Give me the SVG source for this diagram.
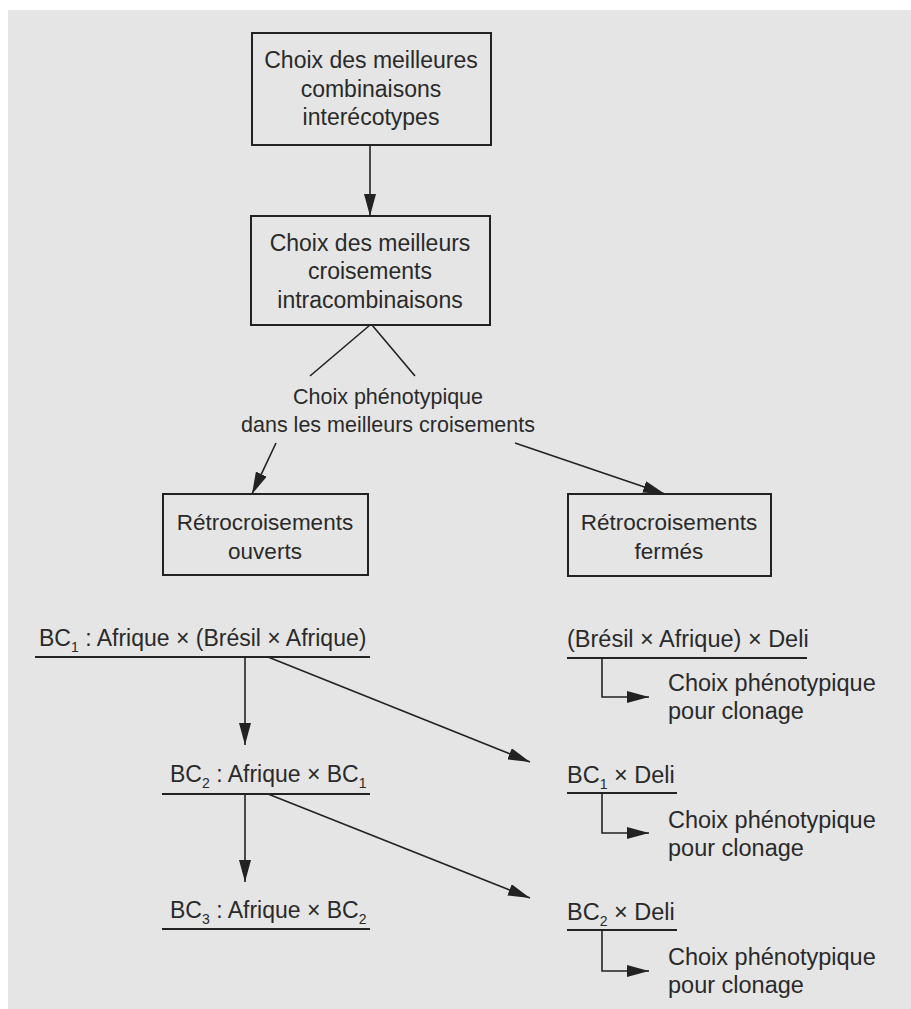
<svg xmlns="http://www.w3.org/2000/svg" width="911" height="1009" viewBox="0 0 911 1009">
<defs>
<style>
.t{font-family:"Liberation Sans",Arial,sans-serif;font-size:23px;fill:#2a2a2a}
.m{font-size:21.5px}
.b3{font-size:22.5px}
.r{font-size:23.5px}
.c{text-anchor:middle}
.box{fill:none;stroke:#222;stroke-width:2}
.ln{fill:none;stroke:#222;stroke-width:1.6}
.ul{fill:none;stroke:#222;stroke-width:2}
.sub{font-size:14px}
</style>
<marker id="ah" viewBox="0 0 22 12" refX="22" refY="6" markerWidth="22" markerHeight="12" markerUnits="userSpaceOnUse" orient="auto">
<path d="M0,0 L22,6 L0,12 z" fill="#222"/>
</marker>
</defs>
<rect x="0" y="0" width="911" height="1009" fill="#ffffff"/>
<rect x="8" y="10" width="903" height="999" fill="#e5e5e5"/>

<g id="n1">
<rect class="box" x="252" y="33" width="239" height="112"/>
<text class="t c" x="371" y="68">Choix des meilleures</text>
<text class="t c" x="371" y="97">combinaisons</text>
<text class="t c" x="371" y="125">interécotypes</text>
</g>
<g id="n2">
<rect class="box" x="251" y="216" width="239" height="109"/>
<text class="t c" x="370" y="251">Choix des meilleurs</text>
<text class="t c" x="370" y="279">croisements</text>
<text class="t c" x="370" y="308">intracombinaisons</text>
</g>
<g id="n3">
<text class="t m c" x="388" y="404">Choix phénotypique</text>
<text class="t m c" x="388" y="432">dans les meilleurs croisements</text>
</g>
<g id="n4">
<rect class="box" x="163" y="494" width="205" height="81"/>
<text class="t b3 c" x="265" y="530">Rétrocroisements</text>
<text class="t b3 c" x="265" y="559">ouverts</text>
</g>
<g id="n5">
<rect class="box" x="568" y="494" width="203" height="82"/>
<text class="t b3 c" x="669" y="530">Rétrocroisements</text>
<text class="t b3 c" x="669" y="559">fermés</text>
</g>
<g id="n6">
<text class="t" x="39" y="646">BC<tspan class="sub" dy="6">1</tspan><tspan dy="-6"> : Afrique × (Brésil × Afrique)</tspan></text>
<line class="ul" x1="35" y1="657" x2="370" y2="657"/>
</g>
<g id="n7">
<text class="t" x="170" y="782">BC<tspan class="sub" dy="6">2</tspan><tspan dy="-6"> : Afrique × BC</tspan><tspan class="sub" dy="6">1</tspan></text>
<line class="ul" x1="162" y1="794" x2="370" y2="794"/>
</g>
<g id="n8">
<text class="t" x="170" y="918">BC<tspan class="sub" dy="6">3</tspan><tspan dy="-6"> : Afrique × BC</tspan><tspan class="sub" dy="6">2</tspan></text>
<line class="ul" x1="162" y1="929" x2="370" y2="929"/>
</g>
<g id="n9">
<text class="t r" x="567" y="647">(Brésil × Afrique) × Deli</text>
<line class="ul" x1="567" y1="658" x2="807" y2="658"/>
<text class="t r" x="668" y="691">Choix phénotypique</text>
<text class="t r" x="668" y="719">pour clonage</text>
</g>
<g id="n10">
<text class="t r" x="567" y="783">BC<tspan class="sub" dy="6">1</tspan><tspan dy="-6"> × Deli</tspan></text>
<line class="ul" x1="567" y1="793" x2="677" y2="793"/>
<text class="t r" x="668" y="828">Choix phénotypique</text>
<text class="t r" x="668" y="856">pour clonage</text>
</g>
<g id="n11">
<text class="t r" x="567" y="920">BC<tspan class="sub" dy="6">2</tspan><tspan dy="-6"> × Deli</tspan></text>
<line class="ul" x1="567" y1="930" x2="677" y2="930"/>
<text class="t r" x="668" y="965">Choix phénotypique</text>
<text class="t r" x="668" y="993">pour clonage</text>
</g>

<g id="connectors">
<line class="ln" x1="370" y1="145" x2="370" y2="216" marker-end="url(#ah)"/>
<line class="ln" x1="370" y1="325" x2="310" y2="376"/>
<line class="ln" x1="372" y1="325" x2="415" y2="376"/>
<line class="ln" x1="276" y1="443" x2="252" y2="494" marker-end="url(#ah)"/>
<line class="ln" x1="515" y1="443" x2="665" y2="494" marker-end="url(#ah)"/>
<line class="ln" x1="245" y1="657" x2="245" y2="745" marker-end="url(#ah)"/>
<line class="ln" x1="268" y1="657" x2="530" y2="762" marker-end="url(#ah)"/>
<line class="ln" x1="245" y1="794" x2="245" y2="882" marker-end="url(#ah)"/>
<line class="ln" x1="268" y1="794" x2="530" y2="898" marker-end="url(#ah)"/>
<polyline class="ln" points="602,658 602,697 649,697" marker-end="url(#ah)"/>
<polyline class="ln" points="602,793 602,833 649,833" marker-end="url(#ah)"/>
<polyline class="ln" points="602,930 602,971 649,971" marker-end="url(#ah)"/>
</g>
</svg>
